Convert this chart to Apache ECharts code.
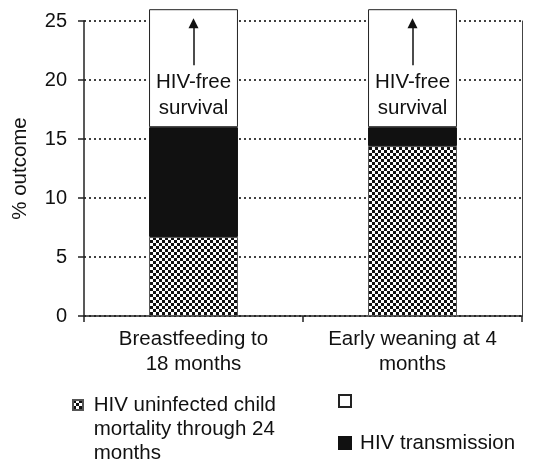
<!DOCTYPE html>
<html>
<head>
<meta charset="utf-8">
<title>HIV outcome</title>
<script src="https://cdn.jsdelivr.net/npm/echarts@6/dist/echarts.min.js"></script>
<style>
  html, body { margin: 0; padding: 0; background: #fff; }
  #chart { width: 541px; height: 467px; }
</style>
</head>
<body>
<div id="chart"></div>
<script>
// data
var categories = ['Breastfeeding to\n18 months', 'Early weaning at 4\nmonths'];
var mortality = [6.7, 14.4];       // HIV uninfected child mortality
var transmission = [9.3, 1.6];     // HIV transmission
var hivFree = [10.0, 10.0];        // HIV-free survival (white part)
var yTicks = [0, 5, 10, 15, 20, 25];
var arrowRange = [21.25, 24.8];    // arrow from / to, in % outcome

var seriesNames = ['HIV uninfected child\nmortality through 24\nmonths', ' ', 'HIV transmission'];

(function () {
    var font = "'Liberation Sans', Arial, sans-serif";

    // checker pattern for the mortality part
    var tile = document.createElement('canvas');
    tile.width = 6;
    tile.height = 6;
    var ctx = tile.getContext('2d');
    ctx.fillStyle = '#fff';
    ctx.fillRect(0, 0, 6, 6);
    ctx.fillStyle = '#111';
    ctx.fillRect(0, 0, 3, 3);
    ctx.fillRect(3, 3, 3, 3);

    var myChart = echarts.init(document.getElementById('chart'));

    // arrows drawn in data space, one per bar
    var arrows = categories.map(function (c, i) {
        return [{ coord: [i, arrowRange[0]] }, { coord: [i, arrowRange[1]] }];
    });

    var option = {
        animation: false,
        textStyle: { fontFamily: font },
        grid: { left: 84, right: 19, top: 21, bottom: 151 },
        legend: [
            {
                data: [seriesNames[0]],
                left: 72, top: 345, padding: 0,
                icon: 'rect',
                itemWidth: 10, itemHeight: 10,
                // two blank lines first so the icon sits on the first text line
                formatter: function (name) {
                    return '\n\n' + name.split('\n').map(function (s) { return ' ' + s; }).join('\n');
                },
                textStyle: { fontSize: 20.5, lineHeight: 24, color: '#111' }
            },
            {
                data: [seriesNames[1]],
                left: 338, top: 389, padding: 0,
                icon: 'rect',
                itemWidth: 12, itemHeight: 12,
                textStyle: { fontSize: 20.5, lineHeight: 24, color: '#111' }
            },
            {
                data: [seriesNames[2]],
                left: 338, top: 431, padding: 0,
                icon: 'rect',
                itemWidth: 12, itemHeight: 12,
                formatter: function (name) { return '\u2009' + name; },
                textStyle: { fontSize: 20.5, lineHeight: 24, color: '#111' }
            }
        ],
        xAxis: {
            type: 'category',
            data: categories,
            axisLine: { lineStyle: { color: '#222', width: 1.5 } },
            axisTick: { show: true, length: 6, lineStyle: { color: '#222', width: 1.5 } },
            axisLabel: { interval: 0, fontSize: 20.5, lineHeight: 25, color: '#111', margin: 11 }
        },
        yAxis: [
            {
                type: 'value',
                min: yTicks[0],
                max: yTicks[yTicks.length - 1],
                interval: 5,
                name: '% outcome',
                nameLocation: 'middle',
                nameGap: 53,
                nameTextStyle: { fontSize: 20.5, color: '#111' },
                axisLine: { show: true, lineStyle: { color: '#222', width: 1.5 } },
                axisTick: { show: true, length: 6, lineStyle: { color: '#222', width: 1.5 } },
                axisLabel: { fontSize: 20, color: '#111', margin: 17 },
                splitLine: { lineStyle: { color: '#000', width: 1.5, type: [2, 3] } }
            },
            {
                type: 'value',
                position: 'right',
                min: 0, max: 25,
                axisLine: { show: true, lineStyle: { color: '#444', width: 1 } },
                axisTick: { show: false },
                axisLabel: { show: false },
                splitLine: { show: false }
            }
        ],
        series: [
            {
                name: seriesNames[0],
                type: 'bar',
                stack: 'total',
                barWidth: '40.6%',
                data: mortality,
                clip: false,
                itemStyle: { color: { image: tile, repeat: 'repeat' }, borderColor: '#555', borderWidth: 1 }
            },
            {
                name: seriesNames[2],
                type: 'bar',
                stack: 'total',
                data: transmission,
                clip: false,
                itemStyle: { color: '#111', borderColor: '#111', borderWidth: 1 }
            },
            {
                name: seriesNames[1],
                type: 'bar',
                stack: 'total',
                data: hivFree,
                clip: false,
                itemStyle: { color: '#fff', borderColor: '#222', borderWidth: 1 },
                label: {
                    show: true,
                    position: 'insideBottom',
                    distance: 6,
                    formatter: 'HIV-free\nsurvival',
                    fontSize: 20.5,
                    lineHeight: 26,
                    color: '#111'
                },
                markLine: {
                    silent: true,
                    symbol: ['none', 'triangle'],
                    symbolSize: [10, 10],
                    label: { show: false },
                    lineStyle: { color: '#111', width: 1.5, type: 'solid' },
                    data: arrows
                }
            }
        ]
    };
    myChart.setOption(option);
    window.addEventListener('resize', function () {
        myChart.resize();
    });
})();
</script>
</body>
</html>
